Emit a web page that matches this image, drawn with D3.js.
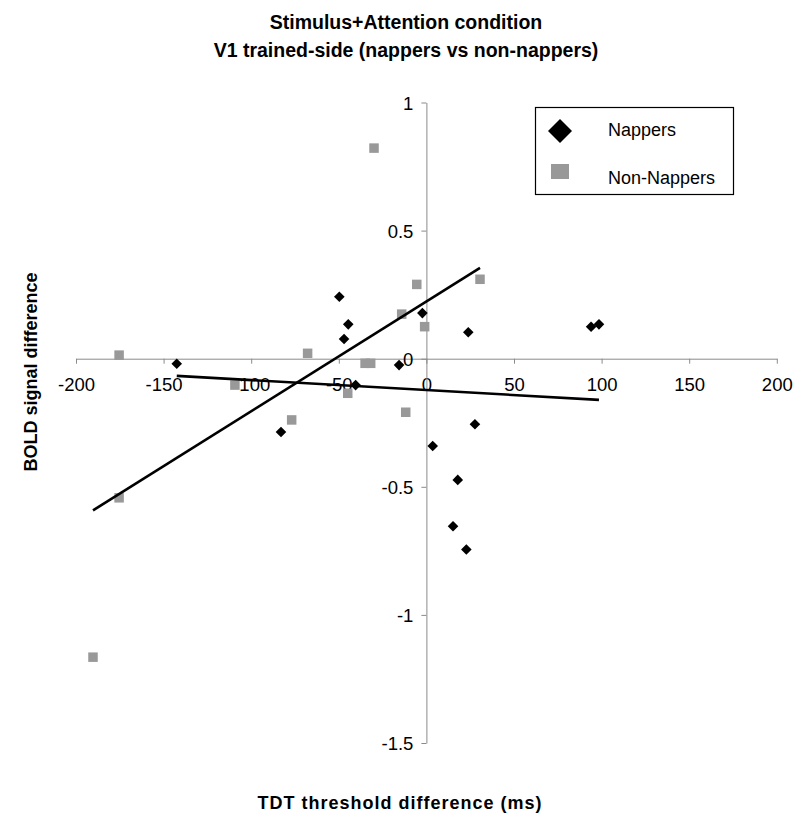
<!DOCTYPE html>
<html>
<head>
<meta charset="utf-8">
<script src="https://cdn.jsdelivr.net/npm/d3@7"></script>
<style>
  html, body { margin: 0; padding: 0; background: #fff; }
  svg { display: block; font-family: Arial, "Liberation Sans", Helvetica, sans-serif; }
</style>
</head>
<body>
<svg id="chart" width="800" height="823"></svg>
<script>
// ---- data ----
const titleLines = ["Stimulus+Attention condition", "V1 trained-side (nappers vs non-nappers)"];
const xLabel = "TDT threshold difference (ms)";
const yLabel = "BOLD signal difference";
const seriesNames = ["Nappers", "Non-Nappers"];

const xTicks = [-200, -150, -100, -50, 0, 50, 100, 150, 200];
const yTicks = [-1.5, -1, -0.5, 0, 0.5, 1];

const nappersX = [-142.5, -49.7, -44.6, -47, -40.4, -15.6, -2.3, 23.9, 94, 98.5, 27.7, 3.6, 17.9, 15.2, 22.8, -83];
const nappersY = [-0.02, 0.242, 0.134, 0.077, -0.103, -0.025, 0.178, 0.103, 0.125, 0.134, -0.256, -0.341, -0.473, -0.654, -0.745, -0.286];

const nonNappersX = [-175.4, -109.3, -175.4, -67.8, -35, -31.8, -44.9, -76.9, -11.8, -14.1, -5.5, -1, 30.6, -29.9, -190.3];
const nonNappersY = [0.014, -0.103, -0.543, 0.021, -0.018, -0.018, -0.135, -0.239, -0.209, 0.174, 0.29, 0.125, 0.31, 0.822, -1.165];

// ---- layout ----
const svg = d3.select("#chart");
const x = d3.scaleLinear().domain([-200, 200]).range([76, 776.8]);
const y = d3.scaleLinear().domain([-1.5, 1]).range([743, 102.5]);
const axisColor = "#8a8a8a";
const grayColor = "#999999";

// titles
svg.append("g").selectAll("text").data(titleLines).join("text")
  .attr("x", 406).attr("y", (d, i) => 29 + i * 28)
  .attr("text-anchor", "middle")
  .attr("font-size", "19.5px").attr("font-weight", "bold")
  .text(d => d);

// x axis at y=0
const xAxisG = svg.append("g").attr("transform", `translate(0,${y(0)})`)
  .call(d3.axisBottom(x).tickValues(xTicks).tickSize(5).tickSizeOuter(0).tickFormat(d3.format("d")));
xAxisG.select(".domain").attr("stroke", axisColor);
xAxisG.selectAll(".tick line").attr("stroke", axisColor);
xAxisG.selectAll(".tick text").attr("font-size", "18.5px").attr("font-family", "Arial, 'Liberation Sans', sans-serif")
  .attr("fill", "#000").attr("y", 32).attr("dy", 0).text(d => d < 0 ? "-" + Math.abs(d) : d);

// y axis at x=0
const yAxisG = svg.append("g").attr("transform", `translate(${x(0)},0)`)
  .call(d3.axisLeft(y).tickValues(yTicks).tickSize(5).tickSizeOuter(0).tickFormat(d => d < 0 ? "-" + Math.abs(d) : String(d)));
yAxisG.select(".domain").attr("stroke", axisColor);
yAxisG.selectAll(".tick line").attr("stroke", axisColor);
yAxisG.selectAll(".tick text").attr("font-size", "18.5px").attr("font-family", "Arial, 'Liberation Sans', sans-serif")
  .attr("fill", "#000").attr("x", -13).attr("dy", "0.36em");

// axis titles
svg.append("text").attr("x", 400).attr("y", 809).attr("text-anchor", "middle")
  .attr("font-size", "18px").attr("font-weight", "bold").attr("letter-spacing", "1px")
  .text(xLabel);
svg.append("text").attr("transform", "translate(37,372) rotate(-90)").attr("text-anchor", "middle")
  .attr("font-size", "18px").attr("font-weight", "bold")
  .text(yLabel);

// regression helper
function fit(xs, ys) {
  const mx = d3.mean(xs), my = d3.mean(ys);
  let sxy = 0, sxx = 0;
  xs.forEach((v, i) => { sxy += (v - mx) * (ys[i] - my); sxx += (v - mx) ** 2; });
  const b = sxy / sxx, a = my - b * mx;
  const [x0, x1] = d3.extent(xs);
  return [[x0, a + b * x0], [x1, a + b * x1]];
}

const nappers = nappersX.map((v, i) => ({x: v, y: nappersY[i]}));
const nonNappers = nonNappersX.map((v, i) => ({x: v, y: nonNappersY[i]}));

// points: non-nappers squares
const sq = 9.5;
svg.append("g").selectAll("rect").data(nonNappers).join("rect")
  .attr("x", d => x(d.x) - sq / 2).attr("y", d => y(d.y) - sq / 2)
  .attr("width", sq).attr("height", sq).attr("fill", grayColor);

// nappers diamonds
const dh = 5.3;
svg.append("g").selectAll("path").data(nappers).join("path")
  .attr("d", d => `M${x(d.x)},${y(d.y) - dh}L${x(d.x) + dh},${y(d.y)}L${x(d.x)},${y(d.y) + dh}L${x(d.x) - dh},${y(d.y)}Z`)
  .attr("fill", "#000");

// trend lines
const line = d3.line().x(d => x(d[0])).y(d => y(d[1]));
[fit(nappersX, nappersY), fit(nonNappersX, nonNappersY)].forEach(pts => {
  svg.append("path").attr("d", line(pts)).attr("stroke", "#000").attr("stroke-width", 2.6).attr("fill", "none");
});

// legend
const lg = svg.append("g");
lg.append("rect").attr("x", 535.5).attr("y", 107.5).attr("width", 198).attr("height", 87)
  .attr("fill", "#fff").attr("stroke", "#000").attr("stroke-width", 1.2);
const ld = 12;
lg.append("path").attr("d", `M560,${131 - ld}L${560 + ld},131L560,${131 + ld}L${560 - ld},131Z`).attr("fill", "#000");
lg.append("rect").attr("x", 551).attr("y", 164).attr("width", 18).attr("height", 15).attr("fill", grayColor);
lg.selectAll("text").data(seriesNames).join("text")
  .attr("x", 608).attr("y", (d, i) => 136 + i * 48)
  .attr("font-size", "18px").text(d => d);
</script>
</body>
</html>
